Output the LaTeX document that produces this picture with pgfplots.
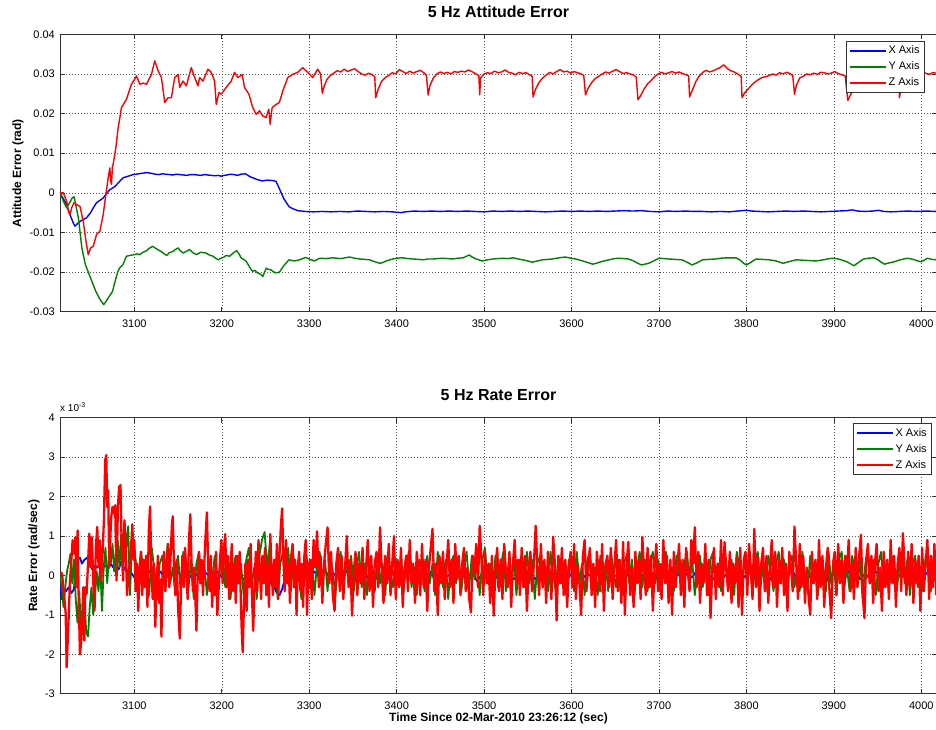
\documentclass[border=0pt]{standalone}
\usepackage{fontspec}
\setmainfont{Liberation Sans}
\usepackage{pgfplots}
\pgfplotsset{compat=1.18}
\definecolor{mblue}{rgb}{0,0,1}
\definecolor{mgreen}{rgb}{0,0.5,0}
\definecolor{mred}{rgb}{1,0,0}
\pgfplotsset{
  mstyle/.style={
    scale only axis, width=877pt,
    xmin=3015, xmax=4018,
    xtick={3100,3200,3300,3400,3500,3600,3700,3800,3900,4000},
    grid=major,
    major grid style={black!65, line width=0.5pt, dash pattern=on 0.8pt off 2.2pt},
    axis line style={black!80, line width=0.6pt},
    every tick/.style={black!80, line width=0.6pt},
    major tick length=5pt,
    tick align=inside,
    /pgf/number format/assume math mode=true,
    /pgf/number format/1000 sep={},
    ticklabel style={font=\fontsize{11}{13}\selectfont},
    xticklabel style={anchor=base, yshift=-15.5pt},
    yticklabel style={anchor=east, inner sep=0pt, xshift=-5pt},
    label style={font=\bfseries\fontsize{12}{14}\selectfont},
    xlabel style={at={(axis description cs:0.5,0)}, anchor=base, yshift=-28pt},
    title style={font=\bfseries\fontsize{16}{18}\selectfont, at={(axis description cs:0.5,1)}, anchor=base, yshift=11pt},
    legend cell align=left,
    legend style={draw=black!80, line width=0.6pt, fill=white,
      font=\fontsize{11}{13}\selectfont, inner xsep=3pt, inner ysep=1.5pt,
      nodes={inner sep=2pt, text height=9pt, text depth=3pt}},
    legend image code/.code={\draw[#1, line width=1.6pt] (0pt,0pt) -- (36pt,0pt);},
    every axis plot/.append style={line join=round, mark=none},
  }
}
\begin{document}
\begin{tikzpicture}
\useasboundingbox (0,0) rectangle (936pt,729pt);
% ---------------- top ----------------
\begin{axis}[mstyle, name=top,
  at={(60pt,417.3pt)}, anchor=south west, height=277.4pt,
  ymin=-0.03, ymax=0.04,
  ytick={-0.03,-0.02,-0.01,0,0.01,0.02,0.03,0.04},
  scaled y ticks=false,
  yticklabel style={/pgf/number format/fixed, /pgf/number format/precision=2},
  ylabel={Attitude Error (rad)},
  ylabel style={at={(axis description cs:-0.0479,0.5)}, anchor=center, rotate=0},
  title={5 Hz Attitude Error},
  legend style={at={(0.9863,0.9759)}, anchor=north east},
  every axis plot/.append style={line width=1.4pt},
]
\addplot[mblue] coordinates {
(3015,0)(3018.8,-0.0015)(3022.6,-0.0030)(3026.4,-0.0055)(3030,-0.0075)(3032,-0.0084)(3034,-0.0080)(3037.8,-0.0072)(3041,-0.0068)(3045.4,-0.0063)(3050,-0.0050)(3053,-0.0038)(3056.8,-0.0025)(3060,-0.0020)(3064.4,-0.0013)(3069,0.0000)(3072,0.0008)(3078,0.0016)(3081.5,0.0025)(3087.2,0.0038)(3093,0.0042)(3098.7,0.0046)(3105,0.0048)(3113.9,0.0051)(3120,0.0049)(3124,0.0047)(3128,0.0046)(3132,0.0048)(3136,0.0047)(3140,0.0046)(3144,0.0045)(3148,0.0047)(3152,0.0046)(3156,0.0045)(3160,0.0044)(3164,0.0046)(3168,0.0046)(3172,0.0045)(3176,0.0044)(3180,0.0046)(3184,0.0045)(3188,0.0044)(3192,0.0043)(3196,0.0044)(3199,0.0042)(3203,0.0044)(3206,0.0045)(3210,0.0047)(3214,0.0046)(3218,0.0044)(3222,0.0047)(3227,0.0048)(3233,0.0040)(3240,0.0034)(3246,0.0030)(3252,0.0032)(3258,0.0031)(3262,0.0029)(3265,0.0015)(3268,0.0000)(3271,-0.0015)(3274,-0.0025)(3277,-0.0035)(3281,-0.0040)(3287,-0.0045)(3295,-0.0047)
(3305,-0.0048)(3315,-0.0047)(3325,-0.0048)(3335,-0.0047)(3345,-0.0048)(3355,-0.0046)(3365,-0.0047)(3375,-0.0048)(3385,-0.0047)(3395,-0.0048)(3405,-0.0050)(3410,-0.0048)(3420,-0.0046)(3430,-0.0047)(3440,-0.0046)(3450,-0.0047)(3460,-0.0046)(3470,-0.0047)(3480,-0.0046)(3490,-0.0047)(3500,-0.0048)(3510,-0.0046)(3520,-0.0047)(3530,-0.0046)(3540,-0.0047)(3550,-0.0046)(3560,-0.0047)(3570,-0.0048)(3580,-0.0047)(3590,-0.0046)(3600,-0.0047)(3610,-0.0046)(3620,-0.0047)(3630,-0.0046)(3640,-0.0047)(3650,-0.0046)(3660,-0.0045)(3670,-0.0046)(3680,-0.0045)(3690,-0.0047)(3700,-0.0048)(3710,-0.0046)(3720,-0.0047)(3730,-0.0046)(3740,-0.0047)(3750,-0.0047)(3760,-0.0048)(3770,-0.0047)(3780,-0.0048)(3790,-0.0046)(3800,-0.0044)(3806,-0.0046)(3815,-0.0047)(3825,-0.0048)(3835,-0.0047)(3845,-0.0046)(3855,-0.0047)(3865,-0.0046)(3875,-0.0047)(3885,-0.0048)(3895,-0.0047)(3905,-0.0046)(3915,-0.0045)(3921,-0.0043)(3927,-0.0046)(3935,-0.0047)(3945,-0.0046)(3951,-0.0044)(3957,-0.0047)(3965,-0.0048)(3975,-0.0047)(3985,-0.0046)(3995,-0.0047)(4005,-0.0046)(4018,-0.0047)
};
\addlegendentry{X Axis}
\addplot[mgreen] coordinates {
(3015,0)(3018.8,-0.0021)(3022.6,-0.0038)(3026,-0.0025)(3029,-0.0013)(3031,-0.0010)(3033,-0.0030)(3036,-0.0063)(3040,-0.0139)(3044,-0.0181)(3050,-0.0215)(3056,-0.0249)(3061,-0.0270)(3063,-0.0276)(3065,-0.0282)(3067,-0.0276)(3070,-0.0266)(3075,-0.0249)(3079,-0.0215)(3081,-0.0200)(3083,-0.0190)(3087,-0.0181)(3091,-0.0160)(3095,-0.0158)(3100,-0.0156)(3103,-0.0154)(3106,-0.0156)(3110,-0.0150)(3114,-0.0146)(3117,-0.0140)(3121,-0.0135)(3125,-0.0141)(3129,-0.0146)(3133,-0.0152)(3137,-0.0158)(3140,-0.0151)(3144,-0.0148)(3147,-0.0143)(3150,-0.0139)(3153,-0.0147)(3156,-0.0152)(3160,-0.0147)(3163,-0.0143)(3167,-0.0151)(3171,-0.0156)(3176,-0.0150)(3182,-0.0152)(3186,-0.0157)(3190,-0.0160)(3193,-0.0165)(3196,-0.0169)(3199,-0.0165)(3202,-0.0163)(3205,-0.0158)(3209,-0.0160)(3213,-0.0152)(3217,-0.0146)(3220,-0.0155)(3222,-0.0164)(3225,-0.0168)(3228,-0.0173)(3232,-0.0188)(3235,-0.0198)(3238,-0.0196)(3241,-0.0202)(3244,-0.0205)(3247,-0.0211)(3249,-0.0200)(3251,-0.0190)(3253,-0.0193)(3256,-0.0194)(3259,-0.0199)(3262,-0.0202)(3266,-0.0200)(3269,-0.0190)(3272,-0.0181)(3277,-0.0169)(3283,-0.0172)(3289,-0.0169)(3296,-0.0163)
(3300,-0.0167)(3306,-0.0172)(3312,-0.0165)(3319,-0.0166)(3327,-0.0164)(3336,-0.0166)(3346,-0.0162)(3352,-0.0165)(3358,-0.0167)(3364,-0.0168)(3369,-0.0169)(3375,-0.0174)(3381,-0.0178)(3384,-0.0176)(3388,-0.0172)(3394,-0.0168)(3400,-0.0165)(3407,-0.0164)(3413,-0.0166)(3419,-0.0167)(3425,-0.0168)(3430,-0.0169)(3436,-0.0167)(3441,-0.0167)(3447,-0.0166)(3453,-0.0165)(3458,-0.0166)(3464,-0.0167)(3470,-0.0165)(3476,-0.0164)(3480,-0.0160)(3483,-0.0157)(3487,-0.0163)(3491,-0.0167)(3498,-0.0172)(3504,-0.0169)(3510,-0.0167)(3516,-0.0166)(3521,-0.0165)(3527,-0.0166)(3533,-0.0164)(3539,-0.0167)(3544,-0.0169)(3550,-0.0172)(3555,-0.0175)(3561,-0.0172)(3567,-0.0169)(3573,-0.0168)(3578,-0.0167)(3586,-0.0164)(3593,-0.0162)(3599,-0.0165)(3605,-0.0167)(3611,-0.0171)(3616,-0.0174)(3620,-0.0177)(3624,-0.0180)(3628,-0.0178)(3632,-0.0175)(3637,-0.0172)(3643,-0.0169)(3649,-0.0166)(3654,-0.0165)(3660,-0.0166)(3665,-0.0167)(3671,-0.0172)(3676,-0.0178)(3680,-0.0182)(3684,-0.0180)(3688,-0.0178)(3694,-0.0172)(3700,-0.0165)(3706,-0.0166)(3711,-0.0167)(3718,-0.0168)(3726,-0.0169)(3732,-0.0175)(3738,-0.0182)(3744,-0.0176)(3750,-0.0169)(3757,-0.0168)(3765,-0.0167)(3771,-0.0165)(3776,-0.0164)(3782,-0.0164)(3788,-0.0164)(3793,-0.0170)(3797,-0.0178)(3800,-0.0182)(3804,-0.0177)(3811,-0.0167)(3818,-0.0168)(3826,-0.0169)(3834,-0.0172)(3842,-0.0178)(3848,-0.0174)(3857,-0.0169)(3864,-0.0170)(3872,-0.0171)(3880,-0.0172)(3888,-0.0169)(3895,-0.0166)(3900,-0.0165)(3907,-0.0168)(3915,-0.0174)(3919,-0.0179)(3923,-0.0184)(3928,-0.0176)(3934,-0.0167)(3940,-0.0165)(3946,-0.0164)(3951,-0.0170)(3955,-0.0176)(3958,-0.0180)(3963,-0.0177)(3969,-0.0174)(3976,-0.0169)(3984,-0.0165)(3991,-0.0168)(3996,-0.0172)(4000,-0.0174)(4004,-0.0169)(4007,-0.0165)(4012,-0.0168)(4018,-0.0169)
};
\addlegendentry{Y Axis}
\addplot[mred] coordinates {
(3015,0)(3018.8,0.0000)(3022.6,-0.0021)(3024.5,-0.0046)(3026.4,-0.0055)(3028.3,-0.0038)(3031,-0.0025)(3034,-0.0030)(3037.8,-0.0034)(3041.6,-0.0072)(3044.7,-0.0122)(3047.3,-0.0156)(3050,-0.0139)(3053,-0.0135)(3056.8,-0.0105)(3060.6,-0.0097)(3064.4,-0.0055)(3067.5,-0.0004)(3070.1,0.0038)(3072,0.0063)(3073,0.0030)(3073.9,0.0021)(3075,0.0068)(3075.8,0.0072)(3078.9,0.0114)(3081.5,0.0164)(3085.3,0.0215)(3091,0.0236)(3096.7,0.0274)(3100,0.0285)(3102.5,0.0295)(3106.3,0.0274)(3110,0.0277)(3113.9,0.0274)(3119.6,0.0299)(3123.4,0.0333)(3127.2,0.0308)(3131,0.0291)(3134.8,0.0228)(3138.6,0.0240)(3142.4,0.0240)(3146.2,0.0291)(3150,0.0299)(3151.9,0.0266)(3155.7,0.0282)(3159.5,0.0270)(3165.2,0.0316)(3169,0.0291)(3172.8,0.0270)(3174.7,0.0291)(3178.5,0.0282)(3184.2,0.0312)(3188,0.0304)(3191.8,0.0282)(3193.7,0.0223)(3196.7,0.0253)(3199.4,0.0249)(3205.1,0.0266)(3210.8,0.0282)(3214.6,0.0304)(3218.4,0.0291)(3223.4,0.0298)(3226,0.0266)(3231,0.0249)(3235.5,0.0215)(3239.3,0.0198)(3243.1,0.0207)(3246.9,0.0194)(3250.7,0.0190)(3253.8,0.0211)(3255.3,0.0173)(3257.6,0.0215)(3262.1,0.0223)(3265.9,0.0228)(3269.8,0.0257)(3275.5,0.0291)(3281.2,0.0299)(3286.9,0.0304)(3292.6,0.0316)(3298.3,0.0304)(3304,0.0291)(3309.7,0.0312)
(3313,0.0300)(3315,0.0251)(3317,0.0268)(3320,0.0285)(3324,0.0296)(3328,0.0302)(3332,0.0308)(3336,0.0305)(3340,0.0312)(3344,0.0306)(3348,0.0310)(3352,0.0313)(3356,0.0306)(3360,0.0300)(3364,0.0297)(3368,0.0302)(3372,0.0298)(3375,0.0293)(3376,0.0240)(3379,0.0262)(3383,0.0282)(3387,0.0291)(3391,0.0296)(3395,0.0303)(3399,0.0300)(3403,0.0311)(3407,0.0306)(3411,0.0301)(3415,0.0307)(3419,0.0302)(3423,0.0306)(3427,0.0309)(3431,0.0303)(3434,0.0297)(3436,0.0247)(3438,0.0270)(3442,0.0290)(3446,0.0300)(3450,0.0305)(3454,0.0301)(3458,0.0304)(3462,0.0300)(3466,0.0306)(3470,0.0304)(3474,0.0307)(3478,0.0305)(3482,0.0310)(3486,0.0306)(3490,0.0301)(3494,0.0296)(3495,0.0247)(3496,0.0290)(3500,0.0300)(3504,0.0303)(3508,0.0301)(3512,0.0307)(3516,0.0303)(3520,0.0305)(3524,0.0310)(3528,0.0304)(3532,0.0302)(3536,0.0298)(3540,0.0304)(3544,0.0301)(3548,0.0303)(3552,0.0298)(3555,0.0294)(3556,0.0242)(3559,0.0262)(3563,0.0279)(3567,0.0290)(3571,0.0297)(3575,0.0304)(3579,0.0300)(3583,0.0306)(3587,0.0311)(3591,0.0305)(3595,0.0307)(3599,0.0302)(3603,0.0306)(3607,0.0303)(3611,0.0300)(3614,0.0296)(3616,0.0247)(3619,0.0264)(3623,0.0278)(3627,0.0288)(3631,0.0294)(3635,0.0300)(3639,0.0305)(3643,0.0302)(3647,0.0307)(3651,0.0311)(3655,0.0306)(3659,0.0301)(3663,0.0303)(3667,0.0300)(3671,0.0297)(3674,0.0292)(3676,0.0235)(3679,0.0245)(3683,0.0262)(3687,0.0275)(3691,0.0283)(3695,0.0293)(3699,0.0300)(3703,0.0304)(3707,0.0300)(3711,0.0303)(3715,0.0306)(3719,0.0302)(3723,0.0305)(3727,0.0301)(3731,0.0298)(3734,0.0295)(3735,0.0242)(3738,0.0258)(3742,0.0280)(3746,0.0295)(3750,0.0304)(3754,0.0309)(3758,0.0305)(3762,0.0308)(3766,0.0312)(3770,0.0316)(3774,0.0323)(3778,0.0314)(3782,0.0308)(3786,0.0305)(3790,0.0300)(3794,0.0294)(3795,0.0240)(3798,0.0252)(3802,0.0262)(3806,0.0272)(3810,0.0280)(3814,0.0286)(3818,0.0291)(3822,0.0293)(3826,0.0296)(3830,0.0300)(3834,0.0297)(3838,0.0303)(3842,0.0300)(3846,0.0304)(3850,0.0301)(3853,0.0296)(3855,0.0249)(3857,0.0270)(3861,0.0290)(3865,0.0294)(3869,0.0300)(3873,0.0298)(3877,0.0302)(3881,0.0299)(3885,0.0304)(3889,0.0303)(3893,0.0300)(3897,0.0302)(3901,0.0306)(3905,0.0301)(3909,0.0298)(3913,0.0295)(3916,0.0233)(3919,0.0247)(3923,0.0262)(3927,0.0274)(3931,0.0283)(3935,0.0290)(3939,0.0295)(3943,0.0300)(3947,0.0302)(3951,0.0300)(3955,0.0304)(3959,0.0301)(3963,0.0303)(3967,0.0300)(3971,0.0298)(3974,0.0296)(3975,0.0240)(3977,0.0265)(3981,0.0285)(3985,0.0295)(3989,0.0300)(3993,0.0303)(3997,0.0300)(4001,0.0298)(4005,0.0302)(4009,0.0299)(4013,0.0303)(4018,0.0302)
};
\addlegendentry{Z Axis}
\end{axis}
% ---------------- bottom ----------------
\begin{axis}[mstyle, name=bot,
  at={(60pt,35.3pt)}, anchor=south west, height=276pt,
  ymin=-3, ymax=4,
  ytick={-3,-2,-1,0,1,2,3,4},
  ylabel={Rate Error (rad/sec)},
  ylabel style={at={(axis description cs:-0.0296,0.5)}, anchor=center},
  xlabel={Time Since 02-Mar-2010 23:26:12 (sec)},
  title={5 Hz Rate Error},
  legend style={at={(0.9943,0.9797)}, anchor=north east},
]
\addplot[mblue, line width=1.8pt] coordinates {
(3015,-0.2)(3017,-0.6)(3019,-0.35)(3022,-0.4)(3025,-0.3)(3028,-0.45)(3031,-0.35)(3033,0.3)(3035,0.4)(3038,0.45)(3040,0.3)(3043,0.4)(3046,0.45)(3049,0.3)(3052,0.15)(3055,0.25)(3058,0.2)(3061,0.3)(3064,0.2)(3067,0.25)(3070,0.15)(3073,0.3)(3076,0.2)(3079,0.25)(3082,0.15)(3085,0.35)(3088,0.2)(3091,0.1)(3094,0.0)(3097,0.05)
(3100,-0.05)(3105,0.1)(3110,-0.1)(3115,0.05)(3120,0.15)(3125,-0.05)(3130,0.1)(3135,-0.1)(3140,0.05)(3145,0.0)(3150,0.1)(3155,-0.1)(3160,0.1)(3165,-0.05)(3170,0.05)(3175,-0.1)(3180,0.1)(3185,0.0)(3190,-0.1)(3195,0.1)(3200,-0.05)(3205,0.05)(3210,-0.1)(3215,0.1)(3220,0.0)(3225,-0.1)(3230,0.05)(3235,-0.05)(3240,0.1)(3245,-0.05)(3250,0.0)(3255,-0.15)(3260,-0.3)(3263,-0.45)(3266,-0.5)(3269,-0.35)(3272,-0.1)(3275,0.1)(3280,-0.05)(3285,0.1)(3290,-0.05)(3295,0.05)
(3300,-0.1)(3306,0.1)(3312,-0.05)(3318,0.15)(3324,-0.1)(3330,0.05)(3336,-0.15)(3342,0.1)(3348,0.0)(3354,-0.1)(3360,0.1)(3366,-0.05)(3372,0.15)(3378,-0.1)(3384,0.05)(3390,-0.1)(3396,0.1)(3402,-0.15)(3408,0.05)(3414,0.1)(3420,-0.1)(3426,0.05)(3432,-0.05)(3438,0.1)(3444,-0.1)(3450,0.15)(3456,-0.05)(3462,0.05)(3468,-0.1)(3474,0.1)(3480,-0.05)(3486,0.1)(3492,-0.15)(3498,0.05)(3504,-0.05)(3510,0.1)(3516,-0.1)(3522,0.05)(3528,0.1)(3534,-0.1)(3540,0.05)(3546,-0.05)(3552,0.15)(3558,-0.1)(3564,0.05)(3570,-0.1)(3576,0.1)(3582,-0.05)(3588,0.1)(3594,-0.15)(3600,0.05)(3606,0.1)(3612,-0.1)(3618,0.05)(3624,-0.05)(3630,0.1)(3636,-0.1)(3642,0.15)(3648,-0.05)(3654,0.05)(3660,-0.1)(3666,0.1)(3672,-0.05)(3678,0.1)(3684,-0.15)(3690,0.05)(3696,-0.05)(3702,0.1)(3708,-0.1)(3714,0.05)(3720,0.1)(3726,-0.1)(3732,0.05)(3738,-0.05)(3744,0.15)(3750,-0.1)(3756,0.05)(3762,-0.1)(3768,0.1)(3774,-0.05)(3780,0.1)(3786,-0.15)(3792,0.05)(3798,-0.05)(3804,0.1)(3810,-0.1)(3816,0.05)(3822,0.1)(3828,-0.1)(3834,-0.15)(3840,0.1)(3846,-0.05)(3852,0.15)(3858,-0.1)(3864,0.05)(3870,-0.1)(3876,0.1)(3882,-0.05)(3888,0.1)(3894,-0.15)(3900,0.05)(3906,0.1)(3912,-0.1)(3918,0.15)(3924,0.2)(3930,-0.1)(3936,0.05)(3942,-0.1)(3948,0.1)(3954,-0.05)(3960,0.1)(3966,-0.1)(3972,0.05)(3978,-0.05)(3984,0.1)(3990,-0.1)(3996,0.05)(4002,-0.05)(4008,0.1)(4014,-0.1)(4018,0.05)
};
\addlegendentry{X Axis}
\addplot[mgreen, line width=1.8pt] coordinates {
(3015,0)(3017,-0.3)(3019,-0.8)(3021,-0.3)(3023,0.1)(3025,0.3)(3027,0.55)(3029,-0.2)(3031,0.4)(3033,-0.6)(3035,-1.2)(3037,-0.4)(3039,-1.3)(3041,-1.5)(3043,-0.6)(3045,-1.45)(3047,-1.55)(3049,-0.8)(3051,-0.3)(3053,-1.0)(3055,-0.5)(3057,0.1)(3059,-0.4)(3061,0.3)(3063,-0.9)(3065,0.2)(3067,0.7)(3069,-0.2)(3071,0.5)(3073,0.3)(3075,0.8)(3077,0.1)(3079,0.6)(3081,0.9)(3083,0.2)(3085,1.05)(3087,0.5)(3089,1.3)(3091,0.7)(3093,1.25)(3095,-0.5)(3097,0.6)(3099,0.9)
(3102,0.3)(3105,-0.4)(3108,0.6)(3111,-0.2)(3114,0.4)(3117,-0.5)(3120,0.7)(3123,0.1)(3126,-0.6)(3129,0.3)(3132,0.5)(3135,-0.3)(3138,0.8)(3141,-0.2)(3144,0.2)(3147,-0.5)(3150,0.5)(3153,-0.4)(3156,0.6)(3159,0.1)(3162,-0.3)(3165,0.4)(3168,-0.6)(3171,0.3)(3174,0.6)(3177,-0.2)(3180,0.3)(3183,-0.5)(3186,0.4)(3189,-0.1)(3192,0.5)(3195,-0.4)(3198,0.2)(3201,0.6)(3204,-0.3)(3207,0.4)(3210,-0.6)(3213,0.2)(3216,0.5)(3219,-0.2)(3222,0.3)(3225,-0.5)(3228,0.4)(3231,0.7)(3234,-0.3)(3237,0.2)(3240,-0.6)(3243,0.5)(3246,0.9)(3249,1.1)(3252,0.2)(3255,0.8)(3258,-0.3)(3261,0.4)(3264,-0.6)(3267,0.3)(3270,0.6)(3273,-0.2)(3276,0.7)(3279,-0.4)(3282,0.5)(3285,-0.3)(3288,0.4)(3291,-0.6)(3294,0.2)(3297,0.5)(3300,-0.3)(3303,0.4)(3306,-0.5)(3309,0.3)
(3312,0.6)(3315,-0.2)(3318,0.4)(3321,-0.4)(3324,0.5)(3327,0.1)(3330,-0.5)(3333,0.3)(3336,0.6)(3339,-0.3)(3342,0.4)(3345,-0.2)(3348,0.5)(3351,-0.4)(3354,0.2)(3357,0.6)(3360,-0.3)(3363,0.3)(3366,-0.5)(3369,0.4)(3372,0.1)(3375,-0.4)(3378,0.5)(3381,-0.2)(3384,0.3)(3387,-0.5)(3390,0.6)(3393,0.0)(3396,-0.3)(3399,0.4)(3402,-0.2)(3405,0.5)(3408,-0.4)(3411,0.3)(3414,0.6)(3417,-0.3)(3420,0.2)(3423,-0.5)(3426,0.4)(3429,0.1)(3432,-0.4)(3435,0.5)(3438,-0.2)(3441,0.3)(3444,-0.5)(3447,0.6)(3450,0.2)(3453,-0.3)(3456,0.4)(3459,-0.6)(3462,0.3)(3465,0.5)(3468,-0.2)(3471,0.4)(3474,-0.4)(3477,0.2)(3480,0.6)(3483,-0.3)(3486,0.5)(3489,-0.1)(3492,0.3)(3495,-0.5)(3498,0.4)(3501,0.7)(3504,-0.2)(3507,0.3)(3510,-0.4)(3513,0.5)(3516,-0.3)(3519,0.2)(3522,0.6)(3525,-0.4)(3528,0.3)(3531,-0.2)(3534,0.5)(3537,-0.5)(3540,0.4)(3543,0.1)(3546,-0.3)(3549,0.6)(3552,-0.2)(3555,0.4)(3558,-0.6)(3561,0.3)(3564,0.5)(3567,-0.3)(3570,0.2)(3573,-0.4)(3576,0.6)(3579,0.0)(3582,-0.4)(3585,0.5)(3588,-0.2)(3591,0.3)(3594,-0.5)(3597,0.4)(3600,0.2)(3603,-0.4)(3606,0.6)(3609,-0.2)(3612,0.3)(3615,-0.5)(3618,0.4)(3621,0.6)(3624,-0.3)(3627,0.2)(3630,-0.5)(3633,0.5)(3636,-0.2)(3639,0.3)(3642,-0.4)(3645,0.6)(3648,0.1)(3651,-0.3)(3654,0.4)(3657,-0.6)(3660,0.3)(3663,0.5)(3666,-0.2)(3669,0.4)(3672,-0.5)(3675,0.2)(3678,0.6)(3681,-0.3)(3684,0.4)(3687,-0.4)(3690,0.3)(3693,0.6)(3696,-0.2)(3699,0.4)(3702,-0.5)(3705,0.3)(3708,0.6)(3711,-0.3)(3714,0.2)(3717,-0.4)(3720,0.5)(3723,0.1)(3726,-0.4)(3729,0.3)(3732,0.6)(3735,-0.2)(3738,0.4)(3741,-0.5)(3744,0.3)(3747,0.5)(3750,-0.3)(3753,0.2)(3756,-0.5)(3759,0.4)(3762,0.6)(3765,-0.2)(3768,0.3)(3771,-0.4)(3774,0.5)(3777,0.1)(3780,-0.3)(3783,0.4)(3786,-0.5)(3789,0.6)(3792,0.2)(3795,-0.4)(3798,0.5)(3801,-0.2)(3804,0.3)(3807,-0.5)(3810,0.4)(3813,0.6)(3816,-0.3)(3819,0.2)(3822,-0.4)(3825,0.5)(3828,0.1)(3831,-0.4)(3834,0.3)(3837,0.6)(3840,-0.2)(3843,0.4)(3846,-0.5)(3849,0.3)(3852,0.5)(3855,-0.3)(3858,0.2)(3861,-0.4)(3864,0.6)(3867,0.0)(3870,-0.4)(3873,0.5)(3876,-0.2)(3879,0.3)(3882,-0.5)(3885,0.4)(3888,0.2)(3891,-0.4)(3894,0.6)(3897,-0.2)(3900,0.3)(3903,-0.5)(3906,0.4)(3909,0.6)(3912,-0.3)(3915,0.2)(3918,-0.4)(3921,0.5)(3924,0.1)(3927,-0.3)(3930,0.4)(3933,-0.6)(3936,0.3)(3939,0.5)(3942,-0.2)(3945,0.4)(3948,-0.5)(3951,0.3)(3954,0.6)(3957,-0.3)(3960,0.2)(3963,-0.4)(3966,0.5)(3969,0.1)(3972,-0.4)(3975,0.3)(3978,0.6)(3981,-0.2)(3984,0.4)(3987,-0.5)(3990,0.3)(3993,0.5)(3996,-0.3)(3999,0.2)(4002,-0.4)(4005,0.5)(4008,0.1)(4011,-0.4)(4014,0.3)(4017,0.5)
};
\addlegendentry{Y Axis}
\addplot[mred, line width=2.3pt] coordinates {
(3015.8,0.08)(3017.3,0.04)(3019.6,-0.47)(3021.5,-0.97)(3022.6,-2.33)(3024.5,-1.31)(3026.4,-0.13)(3027.5,0.21)(3029.4,0.89)(3031,0.55)(3032.5,0.97)(3034,-0.30)(3035.2,1.14)(3036.3,-0.47)(3037.8,-2.0)(3039.4,-1.65)(3040.5,-0.97)(3041.6,-0.30)(3042.9,-1.65)(3043.9,-0.30)(3045.4,-0.47)(3046.9,0.21)(3048.5,1.06)(3050,0.21)(3051.5,0.97)(3053,-0.13)(3054.5,-0.89)(3056,0.72)(3057.6,1.23)(3059.1,0.21)(3060.6,0.89)(3062.1,-0.13)(3063.7,0.55)(3065.2,1.40)(3066.7,2.92)(3067.9,3.05)(3069,1.74)(3070.1,2.16)(3071.3,0.21)(3072.4,0.89)(3073.6,1.48)(3075.1,1.74)(3076.6,1.57)(3078.1,1.78)(3079.6,-0.13)(3081.2,1.74)(3082.7,2.25)(3084.2,2.29)(3085.7,0.55)(3087.2,-0.13)(3088.7,1.4)(3090.2,0.7)(3091.7,-0.5)(3093.2,0.0)(3094.7,0.3)(3096.2,0.7)(3097.7,1.3)(3099,0.4)
(3100,0.9)(3101.5,-0.4)(3103,0.3)(3104.5,-0.9)(3106,0.2)(3107.5,0.6)(3109,-0.5)(3110.5,0.4)(3112,-0.3)(3113.5,0.5)(3115,-0.8)(3116.5,1.1)(3118,1.75)(3119.5,0.2)(3121,-0.6)(3122.5,0.3)(3124,-1.3)(3125.5,-0.2)(3127,0.5)(3128.5,-0.7)(3130,-0.1)(3131,-1.55)(3132.5,0.1)(3134,0.6)(3135.5,-0.4)(3137,0.2)(3138.5,0.8)(3140,-0.3)(3141.5,0.5)(3143,1.3)(3144,1.5)(3145.5,0.1)(3147,-0.5)(3148.5,0.4)(3150,-0.8)(3152,-1.6)(3153.5,-0.2)(3155,0.5)(3156.5,-0.3)(3158,0.7)(3159.5,0.1)(3161,-0.6)(3162.5,0.9)(3164,1.55)(3165.5,0.3)(3167,-0.4)(3168.5,0.2)(3170,-0.7)(3171,-1.4)(3172.5,0.0)(3174,0.6)(3175.5,-0.2)(3177,0.4)(3178.5,-0.5)(3180,0.3)(3181.5,1.0)(3183,1.6)(3184.5,0.2)(3186,-0.4)(3187.5,0.5)(3189,-0.8)(3190.5,0.1)(3192,-0.5)(3193.5,0.6)(3195,-1.0)(3196.5,-0.3)(3198,0.4)(3199.5,0.9)(3201,-0.2)(3202.5,0.7)(3204,1.05)(3205.5,-0.3)(3207,0.5)(3208.5,-0.6)(3210,0.2)(3211.5,0.8)(3213,-0.4)(3214.5,0.3)(3216,-0.7)(3217.5,0.5)(3219,-0.2)(3220.5,0.6)(3222,-0.8)(3223,-1.5)(3224,-1.95)(3225.5,-0.6)(3227,0.3)(3228.5,-0.9)(3230,0.4)(3231.5,-0.3)(3233,0.8)(3234.5,-0.5)(3236,-1.4)(3237.5,-0.2)(3239,0.6)(3240.5,-0.4)(3242,0.9)(3243.5,0.2)(3245,-0.6)(3246.5,0.5)(3248,-0.2)(3249.5,0.7)(3251,-0.5)(3252.5,0.3)(3254,-0.8)(3255.5,1.05)(3257,0.1)(3258.5,-0.5)(3260,0.4)(3261.5,-0.3)(3263,0.8)(3264.5,-0.6)(3266,0.5)(3267.5,1.2)(3269,1.7)(3270.5,0.4)(3272,-0.4)(3273.5,0.9)(3275,-0.2)(3276.5,0.3)(3278,-0.7)(3279.5,0.5)(3281,0.8)(3282.5,-0.3)(3284,0.4)(3285.5,-1.0)(3287,0.2)(3288.5,0.6)(3290,-0.4)(3291.5,0.3)(3293,-0.8)(3294.5,0.5)(3296,0.9)(3297.5,-1.0)(3299,0.2)
(3301,0.4)(3303,-0.6)(3305,0.9)(3307,0.2)(3309,1.12)(3311,-0.3)(3313,0.5)(3315,-0.7)(3317,0.3)(3319,0.8)(3321,1.22)(3323,-0.2)(3325,0.6)(3327,-0.5)(3329,-0.9)(3331,0.3)(3333,0.7)(3335,-0.4)(3337,0.5)(3339,-0.6)(3341,0.2)(3343,1.0)(3345,-0.3)(3347,0.4)(3349,-1.02)(3351,0.1)(3353,0.6)(3355,-0.5)(3357,0.3)(3359,-0.2)(3361,0.7)(3363,-0.6)(3365,0.2)(3367,0.9)(3369,-0.4)(3371,0.5)(3373,-0.8)(3375,0.3)(3377,0.6)(3379,-0.3)(3381,1.22)(3383,0.1)(3385,-0.7)(3387,0.5)(3389,-0.2)(3391,0.8)(3393,-0.5)(3395,0.3)(3397,1.0)(3399,-0.6)(3401,0.4)(3403,-0.3)(3405,0.7)(3407,-0.8)(3409,0.2)(3411,0.5)(3413,-0.4)(3415,0.9)(3417,-0.2)(3419,0.3)(3421,-0.7)(3423,0.6)(3425,0.1)(3427,-0.5)(3429,0.8)(3431,-0.3)(3433,0.4)(3435,-0.9)(3437,0.2)(3439,0.7)(3441,1.18)(3443,-0.4)(3445,0.3)(3447,-1.0)(3449,0.5)(3451,-0.2)(3453,0.6)(3455,-0.6)(3457,0.2)(3459,0.9)(3461,-0.3)(3463,0.4)(3465,-0.7)(3467,0.8)(3469,-0.1)(3471,0.5)(3473,-0.5)(3475,0.3)(3477,0.7)(3479,-0.4)(3481,0.2)(3483,-0.6)(3485,-0.94)(3487,0.5)(3489,0.1)(3491,0.8)(3493,-0.3)(3495,1.26)(3497,0.4)(3499,-0.5)(3501,0.6)(3503,-0.2)(3505,0.3)(3507,-0.7)(3509,0.5)(3511,-1.02)(3513,0.2)(3515,0.7)(3517,-0.4)(3519,0.4)(3521,-0.6)(3523,0.8)(3525,0.1)(3527,-0.3)(3529,0.6)(3531,-0.8)(3533,0.3)(3535,0.9)(3537,-0.2)(3539,0.4)(3541,-0.5)(3543,0.7)(3545,-0.3)(3547,0.5)(3549,-0.9)(3551,0.2)(3553,0.6)(3555,-0.4)(3557,0.3)(3559,1.26)(3561,0.2)(3563,-0.5)(3565,0.8)(3567,-0.3)(3569,0.4)(3571,-0.7)(3573,0.6)(3575,0.1)(3577,-0.6)(3579,0.98)(3581,0.3)(3583,-1.14)(3585,0.5)(3587,-0.2)(3589,0.7)(3591,-0.5)(3593,0.4)(3595,-0.8)(3597,0.2)(3599,0.6)(3601,-0.3)(3603,0.8)(3605,-0.6)(3607,0.3)(3609,-0.2)(3611,-1.0)(3613,0.5)(3615,0.9)(3617,-0.4)(3619,0.2)(3621,0.7)(3623,-0.5)(3625,0.3)(3627,-0.8)(3629,0.6)(3631,0.1)(3633,-0.4)(3635,0.8)(3637,-0.9)(3639,0.3)(3641,0.5)(3643,-0.3)(3645,0.7)(3647,-0.6)(3649,0.2)(3651,0.9)(3653,-0.4)(3655,0.4)(3657,-0.7)(3659,0.85)(3661,-1.0)(3663,0.3)(3665,0.85)(3667,-0.5)(3669,0.2)(3671,-0.8)(3673,0.6)(3675,-0.2)(3677,0.4)(3679,-0.6)(3681,0.98)(3683,0.1)(3685,-0.5)(3687,0.7)(3689,-0.3)(3691,0.5)(3693,-0.9)(3695,0.2)(3697,0.8)(3699,-0.4)(3701,0.3)(3703,-0.6)(3705,0.9)(3707,-0.2)(3709,0.5)(3711,-0.7)(3713,0.4)(3715,-1.0)(3717,0.6)(3719,-0.3)(3721,0.2)(3723,0.8)(3725,-0.5)(3727,0.4)(3729,-0.8)(3731,0.7)(3733,0.1)(3735,-0.4)(3737,0.9)(3739,0.3)(3741,1.22)(3743,-0.3)(3745,0.6)(3747,-0.7)(3749,0.3)(3751,-0.2)(3753,0.8)(3755,-0.5)(3757,0.4)(3759,-1.08)(3761,0.2)(3763,0.7)(3765,-0.6)(3767,0.3)(3769,-0.3)(3771,0.9)(3773,-0.5)(3775,0.85)(3777,0.2)(3779,-0.4)(3781,0.6)(3783,-0.7)(3785,0.3)(3787,-0.2)(3789,0.5)(3791,-0.8)(3793,0.7)(3795,-1.0)(3797,0.4)(3799,0.6)(3801,-0.5)(3803,0.8)(3805,0.2)(3807,-0.6)(3809,1.18)(3811,-0.3)(3813,0.5)(3815,-0.9)(3817,0.3)(3819,0.7)(3821,-0.4)(3823,0.5)(3825,-0.7)(3827,0.2)(3829,0.9)(3831,-0.3)(3833,0.6)(3835,-0.8)(3837,0.4)(3839,-0.2)(3841,0.7)(3843,-0.5)(3845,0.3)(3847,-0.9)(3849,0.6)(3851,0.2)(3853,-0.4)(3855,1.24)(3857,0.3)(3859,-0.6)(3861,0.8)(3863,-0.3)(3865,0.5)(3867,-0.7)(3869,0.2)(3871,-0.5)(3873,-1.0)(3875,0.6)(3877,-0.2)(3879,0.4)(3881,-0.6)(3883,0.9)(3885,-0.3)(3887,0.5)(3889,-0.8)(3891,0.2)(3893,0.7)(3895,-0.4)(3897,-1.08)(3899,0.3)(3901,0.6)(3903,-0.5)(3905,0.8)(3907,-0.2)(3909,0.4)(3911,-0.7)(3913,0.5)(3915,0.1)(3917,0.9)(3919,-0.4)(3921,0.3)(3923,-0.6)(3925,0.7)(3927,-0.3)(3929,0.5)(3931,1.03)(3933,-0.5)(3935,-1.08)(3937,0.4)(3939,0.8)(3941,-0.2)(3943,0.5)(3945,-0.7)(3947,0.3)(3949,0.8)(3951,-0.4)(3953,0.2)(3955,-0.9)(3957,0.6)(3959,-0.3)(3961,0.4)(3963,-0.6)(3965,0.9)(3967,-0.2)(3969,0.5)(3971,-0.8)(3973,0.3)(3975,0.7)(3977,-0.4)(3979,1.07)(3981,0.2)(3983,-0.5)(3985,0.6)(3987,-0.3)(3989,0.8)(3991,-0.7)(3993,0.4)(3995,-0.2)(3997,0.5)(3999,-0.9)(4001,0.7)(4003,-0.4)(4005,0.3)(4007,0.9)(4009,-0.6)(4011,0.5)(4013,-0.3)(4015,0.8)(4017,-0.5)
};
\addlegendentry{Z Axis}
\end{axis}
\node[anchor=base west, inner sep=0pt, font=\fontsize{10}{12}\selectfont] at ([yshift=6.5pt]bot.north west) {x 10\textsuperscript{-3}};
\end{tikzpicture}
\end{document}
